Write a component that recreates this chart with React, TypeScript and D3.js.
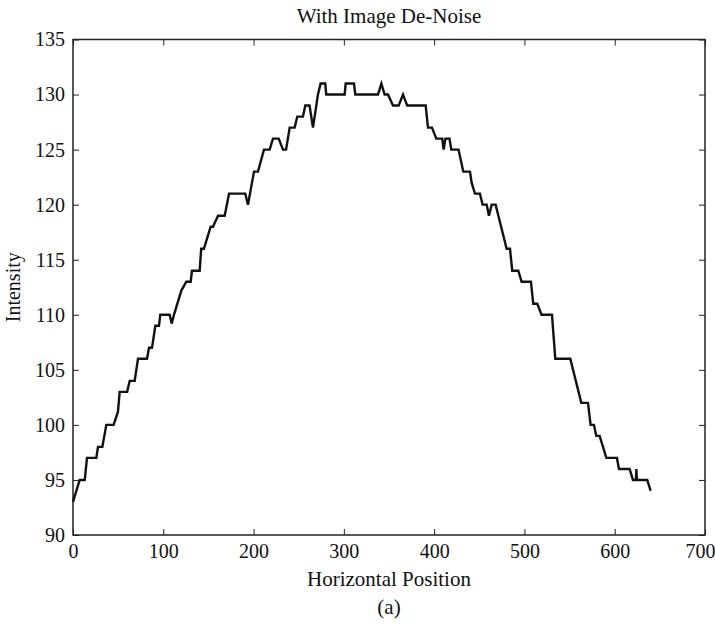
import { useRef, useEffect } from "react";
import * as d3 from "d3";

// profile vertices (horizontal position, intensity)
const positions = [
  0, 7.4, 13, 15.5, 25.8, 27.7, 32.5, 36.9, 45, 49.8, 51.7, 60, 62.8, 68.3, 72, 82, 84.2, 87.5,
  91.2, 95.2, 96.7, 107, 109.3, 111.8, 120, 125.5, 130.3, 131.8, 140.3, 142, 145, 152.5, 155,
  160.6, 168, 172.8, 190.8, 193.8, 200.5, 204.9, 211.5, 217.8, 221.5, 227.8, 232.6, 236, 240,
  245.5, 248.4, 254.7, 257.3, 262, 265.8, 271.3, 274.3, 279.4, 280.5, 300.9, 302, 311.2, 312.7,
  337.8, 341.5, 345.2, 348.9, 354.4, 360.7, 365.5, 370.2, 390.6, 393.2, 397.6, 402.4, 409,
  410.5, 412.5, 417, 419, 427, 432.3, 439.7, 441.5, 445.2, 450.7, 453.7, 458.2, 460.7, 463.7,
  468.1, 480.3, 484, 486.5, 493.2, 496.9, 507.2, 509.8, 514.2, 519, 530.5, 534.2, 550.8, 563,
  570.4, 573.3, 577, 579.6, 583.3, 590.7, 602.5, 604.7, 616.5, 620.2, 623.5, 624, 624.5, 636,
  639.8,
];
const intensities = [
  93, 95, 95, 97, 97, 98, 98, 100, 100, 101.2, 103, 103, 104, 104, 106, 106, 107, 107, 109, 109,
  110, 110, 109.2, 110, 112.2, 113, 113, 114, 114, 116, 116, 118, 118, 119, 119, 121, 121, 120,
  123, 123, 125, 125, 126, 126, 125, 125, 127, 127, 128, 128, 129, 129, 127, 130, 131, 131, 130,
  130, 131, 131, 130, 130, 131, 130, 130, 129, 129, 130, 129, 129, 127, 127, 126, 126, 125, 126,
  126, 125, 125, 123, 123, 122, 121, 121, 120, 120, 119, 120, 120, 116, 116, 114, 114, 113, 113,
  111, 111, 110, 110, 106, 106, 102, 102, 100, 100, 99, 99, 97, 97, 96, 96, 95, 95, 96, 95, 95,
  94,
];

const xTicks = [0, 100, 200, 300, 400, 500, 600, 700];
const yTicks = [90, 95, 100, 105, 110, 115, 120, 125, 130, 135];

const title = "With Image De-Noise";
const xLabel = "Horizontal Position";
const yLabel = "Intensity";
const caption = "(a)";

const WIDTH = 715;
const HEIGHT = 624;
const MARGIN = { top: 39.5, right: 10, bottom: 89, left: 73 };
const FONT = "'Liberation Serif', 'Times New Roman', serif";

export default function App() {
  const svgRef = useRef<SVGSVGElement>(null);

  useEffect(() => {
    if (!svgRef.current) return;
    const innerW = WIDTH - MARGIN.left - MARGIN.right;
    const innerH = HEIGHT - MARGIN.top - MARGIN.bottom;

    const svg = d3.select(svgRef.current);
    svg.selectAll("*").remove();

    const g = svg.append("g").attr("transform", `translate(${MARGIN.left},${MARGIN.top})`);

    const x = d3.scaleLinear().domain([0, 700]).range([0, innerW]);
    const y = d3.scaleLinear().domain([90, 135]).range([innerH, 0]);

    const styleAxis = (sel: d3.Selection<SVGGElement, unknown, null, undefined>) => {
      sel.select(".domain").remove();
      sel.selectAll(".tick line").attr("stroke", "#222").attr("stroke-width", 1);
      sel.selectAll("text").attr("fill", "#111").attr("font-family", FONT).attr("font-size", 20);
    };

    // bottom / left ticks point inward, with labels
    const xAxis = g.append("g")
      .attr("transform", `translate(0,${innerH})`)
      .call(d3.axisBottom(x).tickValues(xTicks).tickSizeInner(-6).tickSizeOuter(0).tickPadding(9))
      .call(styleAxis);
    // last label sits against the page edge, nudge it in
    xAxis.selectAll<SVGTextElement, number>("text")
      .filter((d) => d === 700)
      .attr("dx", -5);

    g.append("g")
      .call(d3.axisLeft(y).tickValues(yTicks).tickSizeInner(-6).tickSizeOuter(0).tickPadding(8))
      .call(styleAxis);

    // top / right ticks, no labels
    g.append("g")
      .call(d3.axisTop(x).tickValues(xTicks).tickSizeInner(-6).tickSizeOuter(0).tickFormat(() => ""))
      .call(styleAxis);
    g.append("g")
      .attr("transform", `translate(${innerW},0)`)
      .call(d3.axisRight(y).tickValues(yTicks).tickSizeInner(-6).tickSizeOuter(0).tickFormat(() => ""))
      .call(styleAxis);

    // frame
    g.append("rect")
      .attr("width", innerW)
      .attr("height", innerH)
      .attr("fill", "none")
      .attr("stroke", "#222")
      .attr("stroke-width", 1.5);

    // profile line
    const data = positions.map((p, i) => ({ p, v: intensities[i] }));
    const line = d3
      .line<(typeof data)[0]>()
      .x((d) => x(d.p))
      .y((d) => y(d.v));
    g.append("path")
      .datum(data)
      .attr("d", line)
      .attr("fill", "none")
      .attr("stroke", "#111")
      .attr("stroke-width", 2.4)
      .attr("stroke-linejoin", "miter");

    // title and labels
    g.append("text")
      .attr("x", innerW / 2)
      .attr("y", -17)
      .attr("text-anchor", "middle")
      .attr("font-family", FONT)
      .attr("font-size", 21)
      .attr("fill", "#111")
      .text(title);

    g.append("text")
      .attr("x", innerW / 2)
      .attr("y", innerH + 51)
      .attr("text-anchor", "middle")
      .attr("font-family", FONT)
      .attr("font-size", 21)
      .attr("fill", "#111")
      .text(xLabel);

    g.append("text")
      .attr("x", innerW / 2)
      .attr("y", innerH + 79)
      .attr("text-anchor", "middle")
      .attr("font-family", FONT)
      .attr("font-size", 21)
      .attr("fill", "#111")
      .text(caption);

    g.append("text")
      .attr("transform", "rotate(-90)")
      .attr("x", -innerH / 2)
      .attr("y", -53)
      .attr("text-anchor", "middle")
      .attr("font-family", FONT)
      .attr("font-size", 20)
      .attr("fill", "#111")
      .text(yLabel);
  }, []);

  return (
    <div style={{ position: "absolute", left: 0, top: 0 }}>
      <svg ref={svgRef} width={WIDTH} height={HEIGHT} style={{ display: "block", background: "#fff" }} />
    </div>
  );
}
